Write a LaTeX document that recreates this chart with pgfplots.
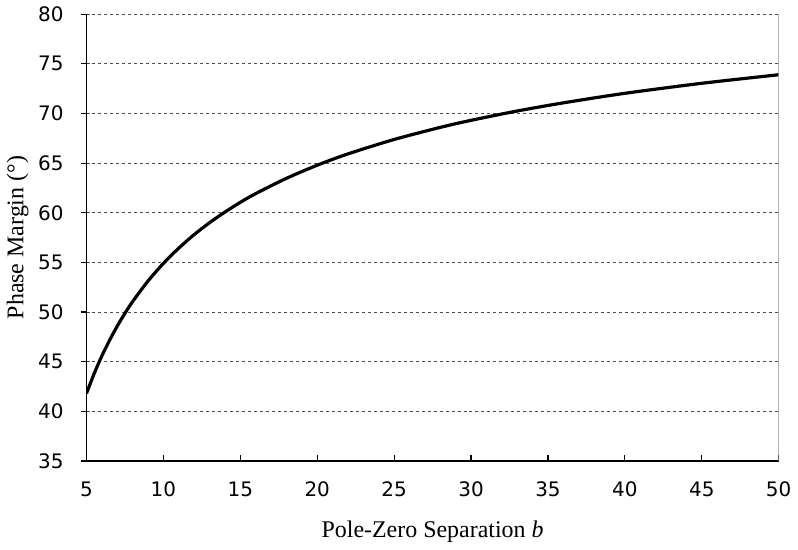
\documentclass[border=0pt]{standalone}
\usepackage{fontspec}
\setmainfont{Liberation Serif}
\newfontfamily\tickfont{DejaVu Sans}
\usepackage{pgfplots}
\pgfplotsset{compat=1.18}

\begin{document}
\begin{tikzpicture}
\begin{axis}[
  scale only axis,width=347pt,height=224pt,
  xmin=5,xmax=50,ymin=35,ymax=80,
  xtick={5,10,...,50},ytick={35,40,...,80},
  axis x line*=bottom,axis y line*=left,
  xtick align=inside,ytick align=outside,
  major tick length=3pt,
  tick style={black,line width=0.6pt},
  axis line style={black,line width=0.8pt},
  ymajorgrids=true,
  grid style={black!70,dashed,line width=0.5pt,dash pattern=on 1.5pt off 1.5pt},
  tick label style={font=\tickfont\fontsize{10}{12}\selectfont},
  /pgf/number format/assume math mode=true,
  xticklabel style={yshift=-7pt},
  yticklabel style={xshift=-5pt},
  xlabel={Pole-Zero Separation \textit{b}},
  ylabel={Phase Margin (°)},
  label style={font=\fontsize{12}{14}\selectfont},
  xlabel style={yshift=-5pt},
  ylabel style={yshift=-2pt},
]
\addplot[black,line width=1.6pt,smooth] coordinates {
  (5,41.81) (5.5,43.81) (6,45.59) (6.5,47.16) (7,48.59) (7.5,49.88)
  (8,51.06) (9,53.13) (10,54.90) (11,56.44) (12,57.80) (13,59.00)
  (14,60.07) (15,61.05) (16,61.93) (18,63.47) (20,64.79) (22,65.93)
  (25,67.38) (28,68.60) (30,69.31) (33,70.25) (36,71.07) (40,72.03)
  (45,73.04) (50,73.90)};
\draw[black!45,line width=0.5pt] (rel axis cs:1,0) -- (rel axis cs:1,1);
\end{axis}
\end{tikzpicture}
\end{document}
